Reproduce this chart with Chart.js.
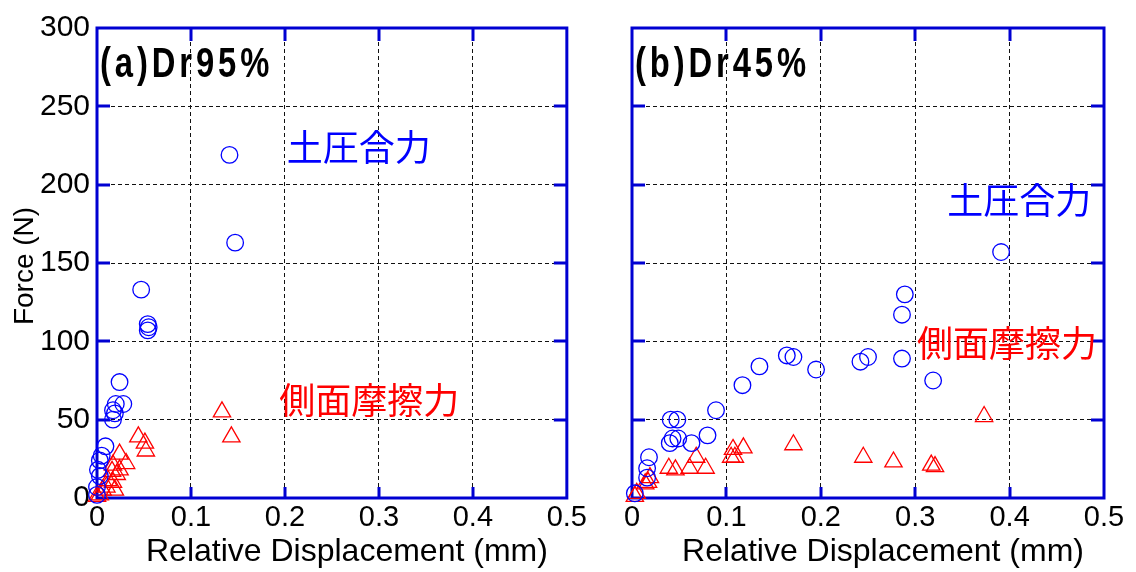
<!DOCTYPE html>
<html>
<head>
<meta charset="utf-8">
<script src="https://cdn.jsdelivr.net/npm/chart.js@4.4.1/dist/chart.umd.min.js"></script>
<style>
  html, body { margin: 0; padding: 0; background: #fff; }
  #wrap { position: relative; width: 1136px; height: 572px; overflow: hidden; }
  canvas { position: absolute; top: 0; }
</style>
</head>
<body>
<div id="wrap">
  <canvas id="dr95" width="590" height="572" style="left:0px"></canvas>
  <canvas id="dr45" width="546" height="572" style="left:590px"></canvas>
</div>
<script>
// Axis ticks shared by both panels
const xTicks = [0, 0.1, 0.2, 0.3, 0.4, 0.5];
const yTicks = [0, 50, 100, 150, 200, 250, 300];

// Dr95%: resultant earth pressure (circles)
const dr95EarthX = [0.141, 0.147, 0.047, 0.054, 0.055, 0.054, 0.024, 0.028, 0.020, 0.017, 0.019, 0.017, 0.009, 0.005, 0.003, 0.001, 0.003, 0.000, 0.000];
const dr95EarthY = [219, 163, 133, 111, 109, 107, 74, 60, 60, 56, 54, 50, 33, 27, 24, 18, 14, 7, 2];
// Dr95%: side friction (triangles)
const dr95FrictionX = [0.133, 0.143, 0.044, 0.051, 0.052, 0.024, 0.031, 0.024, 0.021, 0.019, 0.017, 0.012, 0.010, 0.006, 0.003, 0.000, 0.016, 0.017];
const dr95FrictionY = [55, 39, 39, 35, 30, 28, 22, 18, 15, 5, 10, 11, 7, 5, 2, 1, 17, 21];

// Dr45%: resultant earth pressure (circles)
const dr45EarthX = [0.391, 0.289, 0.286, 0.250, 0.242, 0.286, 0.319, 0.195, 0.164, 0.171, 0.135, 0.117, 0.089, 0.080, 0.063, 0.048, 0.041, 0.049, 0.043, 0.040, 0.018, 0.016, 0.016, 0.003];
const dr45EarthY = [157, 130, 117, 90, 87, 89, 75, 82, 91, 90, 84, 72, 56, 40, 35, 50, 50, 38, 38, 35, 26, 19, 13, 3];
// Dr45%: side friction (triangles)
const dr45FrictionX = [0.373, 0.245, 0.277, 0.317, 0.321, 0.171, 0.118, 0.107, 0.105, 0.109, 0.068, 0.078, 0.061, 0.046, 0.039, 0.019, 0.017, 0.014, 0.005, 0.003];
const dr45FrictionY = [52, 26, 23, 21, 20, 34, 32, 31, 26, 26, 26, 19, 19, 18, 19, 13, 10, 9, 3, 1];

const earthLabel = '土圧合力';
const frictionLabel = '側面摩擦力';
const xTitle = 'Relative Displacement (mm)';
const yTitle = 'Force (N)';

const AXIS_BLUE = '#0000D2';
const MARK_BLUE = '#0000FF';
const MARK_RED = '#FF0000';
const LATIN = '"Liberation Sans", Arial, sans-serif';
const CJK = '"Noto Sans CJK JP", "Noto Sans CJK SC", sans-serif';

const toPoints = (xs, ys) => xs.map((x, i) => ({ x, y: ys[i] }));

// Frame, inward tick marks, axis titles and in-plot labels
const framePlugin = {
  id: 'frame',
  beforeDatasetsDraw(chart) {
    const { ctx, chartArea: a, scales: { x, y } } = chart;
    ctx.save();
    ctx.strokeStyle = AXIS_BLUE;
    ctx.lineWidth = 3;
    ctx.beginPath();
    xTicks.forEach(v => {
      if (v <= x.min || v >= x.max) return;
      const px = Math.round(x.getPixelForValue(v));
      ctx.moveTo(px, a.bottom); ctx.lineTo(px, a.bottom - 11);
      ctx.moveTo(px, a.top); ctx.lineTo(px, a.top + 13);
    });
    yTicks.forEach(v => {
      if (v <= y.min || v >= y.max) return;
      const py = Math.round(y.getPixelForValue(v));
      ctx.moveTo(a.left, py); ctx.lineTo(a.left + 13, py);
      ctx.moveTo(a.right, py); ctx.lineTo(a.right - 13, py);
    });
    ctx.stroke();
    ctx.strokeRect(a.left, a.top, a.right - a.left, a.bottom - a.top);
    ctx.restore();
  },
  afterDraw(chart, args, opts) {
    const { ctx, chartArea: a, scales: { x, y } } = chart;
    ctx.save();
    // panel label, set in a narrowed sans face
    ctx.save();
    ctx.fillStyle = '#000';
    ctx.font = 'bold 42px ' + LATIN;
    ctx.letterSpacing = '5px';
    ctx.textAlign = 'left';
    ctx.textBaseline = 'alphabetic';
    ctx.translate(a.left + 3, a.top + 49);
    ctx.scale(0.78, 1);
    ctx.fillText(opts.panel, 0, 0);
    ctx.restore();
    // series labels inside the plot
    ctx.font = '36px ' + CJK;
    ctx.textAlign = 'left';
    ctx.textBaseline = 'middle';
    opts.notes.forEach(n => {
      ctx.fillStyle = n.color;
      ctx.fillText(n.text, x.getPixelForValue(n.x), y.getPixelForValue(n.y));
    });
    // x axis title
    ctx.fillStyle = '#000';
    ctx.font = '32px ' + LATIN;
    ctx.textAlign = 'center';
    ctx.textBaseline = 'alphabetic';
    ctx.fillText(xTitle, (a.left + a.right) / 2 + 15, 561);
    // y axis title
    if (opts.yTitle) {
      ctx.font = '28px ' + LATIN;
      ctx.translate(25, 266);
      ctx.rotate(-Math.PI / 2);
      ctx.textBaseline = 'middle';
      ctx.fillText(yTitle, 0, 0);
    }
    ctx.restore();
  }
};

function makeChart(id, earthX, earthY, fricX, fricY, panel, notes, leftWidth, rightPad, showY) {
  return new Chart(document.getElementById(id), {
    type: 'scatter',
    data: {
      datasets: [
        {
          label: earthLabel,
          data: toPoints(earthX, earthY),
          pointStyle: 'circle',
          pointRadius: 8.3,
          pointHoverRadius: 8.3,
          borderColor: MARK_BLUE,
          backgroundColor: 'rgba(0,0,0,0)',
          borderWidth: 1.3,
          clip: false
        },
        {
          label: frictionLabel,
          data: toPoints(fricX, fricY),
          pointStyle: 'triangle',
          pointRadius: 10,
          pointHoverRadius: 10,
          borderColor: MARK_RED,
          backgroundColor: 'rgba(0,0,0,0)',
          borderWidth: 1.3,
          clip: false
        }
      ]
    },
    options: {
      responsive: false,
      animation: false,
      events: [],
      layout: { padding: { left: 0, right: rightPad, top: 28, bottom: 0 } },
      plugins: {
        legend: { display: false },
        tooltip: { enabled: false },
        frame: { panel, notes, yTitle: showY }
      },
      scales: {
        x: {
          type: 'linear',
          min: 0, max: 0.5,
          afterBuildTicks: s => { s.ticks = xTicks.map(v => ({ value: v })); },
          afterFit: s => { s.height = 74; },
          grid: { color: '#111', lineWidth: 1, drawTicks: false },
          border: { display: false, dash: [4, 3] },
          ticks: {
            font: { family: LATIN, size: 29 },
            color: '#000',
            padding: 3,
            maxRotation: 0,
            autoSkip: false,
            callback: v => String(v)
          }
        },
        y: {
          type: 'linear',
          min: 0, max: 300,
          afterBuildTicks: s => { s.ticks = yTicks.map(v => ({ value: v })); },
          afterFit: s => { s.width = leftWidth; },
          grid: { color: '#111', lineWidth: 1, drawTicks: false },
          border: { display: false, dash: [4, 3] },
          ticks: {
            display: showY,
            font: { family: LATIN, size: 30 },
            color: '#000',
            padding: 7,
            callback: v => String(v)
          }
        }
      }
    },
    plugins: [framePlugin]
  });
}

makeChart('dr95', dr95EarthX, dr95EarthY, dr95FrictionX, dr95FrictionY, '(a)Dr95%', [
  { text: earthLabel, x: 0.202, y: 224, color: MARK_BLUE },
  { text: frictionLabel, x: 0.194, y: 62.6, color: MARK_RED }
], 97, 21, true);

makeChart('dr45', dr45EarthX, dr45EarthY, dr45FrictionX, dr45FrictionY, '(b)Dr45%', [
  { text: earthLabel, x: 0.334, y: 190, color: MARK_BLUE },
  { text: frictionLabel, x: 0.302, y: 99, color: MARK_RED }
], 42, 32, false);
</script>
</body>
</html>
